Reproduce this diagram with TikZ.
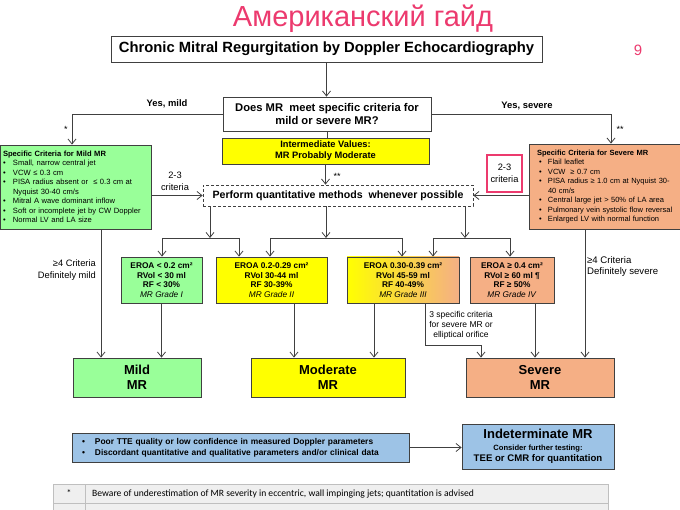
\documentclass[tikz,border=0pt]{standalone}
\usepackage{fontspec}
\setmainfont{Liberation Sans}
\newfontfamily\calib{Carlito}
\usetikzlibrary{arrows.meta}
\definecolor{mgreen}{HTML}{99FF99}
\definecolor{myellow}{HTML}{FFFF00}
\definecolor{morange}{HTML}{F5AF85}
\definecolor{mblue}{HTML}{9DC3E6}
\definecolor{mpink}{HTML}{EC3A6E}
\definecolor{edge}{HTML}{404040}
\definecolor{tgray}{HTML}{EFEFEF}
\definecolor{tline}{HTML}{BFBFBF}
\newcommand{\fsz}[2]{\fontsize{#1}{#2}\selectfont}
\newcommand{\bul}[1]{\makebox[#1][l]{\textbullet}}
\newcommand{\nohyph}{\hyphenpenalty=10000\exhyphenpenalty=10000}
\begin{document}
\begin{tikzpicture}[x=1pt,y=-1pt,
  box/.style={draw=edge, line width=0.8pt, inner sep=0pt, align=center},
  arr/.style={draw=edge, line width=0.8pt, -{Straight Barb[length=5pt,width=8pt]}},
  ln/.style={draw=edge, line width=0.8pt},
  lbl/.style={inner sep=0pt, align=center}]
\useasboundingbox (0,0) rectangle (680,510);

% title
\node[lbl, text=mpink, font=\fsz{29}{31}] (title) at (363,19) {Американский гайд};
\node[lbl, text=mpink, font=\fsz{15}{16}] (pg) at (638,50) {9};

% top boxes
\node[box, minimum width=431pt, minimum height=26pt, font=\fsz{14.8}{16}\bfseries] (chronic) at (326.5,49) {Chronic Mitral Regurgitation by Doppler Echocardiography};
\node[box, fill=white, minimum width=208pt, minimum height=34pt, font=\fsz{11.2}{13.5}\bfseries] (does) at (327,114) {Does MR\ \ meet specific criteria for\\mild or severe MR?};
\node[box, fill=myellow, minimum width=207pt, minimum height=26pt, font=\fsz{9.3}{11}\bfseries] (inter) at (325.5,151) {Intermediate Values:\\MR Probably Moderate};
\node[box, dashed, dash pattern=on 3pt off 2pt, minimum width=270pt, minimum height=21pt, font=\fsz{10.6}{12}\bfseries] (perf) at (338,195.5) {Perform quantitative methods\ \ whenever possible};

% criteria boxes
\node[box, fill=mgreen, minimum width=151pt, minimum height=84pt, text width=145pt, inner xsep=3pt, align=left, font=\fsz{7.6}{9.5}\nohyph] (mildc) at (75.5,187) {\textbf{Specific Criteria for Mild MR}\\
\bul{10pt}Small, narrow central jet\\
\bul{10pt}VCW ≤ 0.3 cm\\
\bul{10pt}PISA radius absent or\ \ ≤ 0.3 cm at\\
\hspace*{10pt}Nyquist 30-40 cm/s\\
\bul{10pt}Mitral A wave dominant inflow\\
\bul{10pt}Soft or incomplete jet by CW Doppler\\
\bul{10pt}Normal LV and LA size};
\node[box, fill=morange, minimum width=151pt, minimum height=85pt, text width=147pt, inner xsep=2pt, align=left, font=\fsz{7.5}{9.5}\nohyph] (sevc) at (604.5,186.5) {\hspace*{6pt}\textbf{Specific Criteria for Severe MR}\\
\hspace*{8pt}\bul{9pt}Flail leaflet\\
\hspace*{8pt}\bul{9pt}VCW\ \ ≥ 0.7 cm\\
\hspace*{8pt}\bul{9pt}PISA radius ≥ 1.0 cm at Nyquist 30-\\
\hspace*{17pt}40 cm/s\\
\hspace*{8pt}\bul{9pt}Central large jet > 50\% of LA area\\
\hspace*{8pt}\bul{9pt}Pulmonary vein systolic flow reversal\\
\hspace*{8pt}\bul{9pt}Enlarged LV with normal function};
\node[draw=mpink, line width=2.5pt, minimum width=35pt, minimum height=37pt, inner sep=0pt, align=center, font=\fsz{9.3}{11.5}] (pink) at (504.5,173.5) {2-3\\criteria};

% grade boxes
\node[box, fill=mgreen, minimum width=81pt, minimum height=46pt, font=\fsz{8.3}{9.6}] (g1) at (161.5,280) {\textbf{EROA < 0.2 cm²}\\\textbf{RVol < 30 ml}\\\textbf{RF < 30\%}\\\textit{MR Grade I}};
\node[box, fill=myellow, minimum width=111pt, minimum height=46pt, font=\fsz{8.3}{9.6}] (g2) at (271.5,280) {\textbf{EROA 0.2-0.29 cm²}\\\textbf{RVol 30-44 ml}\\\textbf{RF 30-39\%}\\\textit{MR Grade II}};
\node[box, left color=myellow, right color=morange, minimum width=112pt, minimum height=46pt, font=\fsz{8.3}{9.6}] (g3) at (403,280) {\textbf{EROA 0.30-0.39 cm²}\\\textbf{RVol 45-59 ml}\\\textbf{RF 40-49\%}\\\textit{MR Grade III}};
\node[box, fill=morange, minimum width=84pt, minimum height=46pt, font=\fsz{8.3}{9.6}] (g4) at (512,280) {\textbf{EROA ≥ 0.4 cm²}\\\textbf{RVol ≥ 60 ml ¶}\\\textbf{RF ≥ 50\%}\\\textit{MR Grade IV}};

% outcome boxes
\node[box, fill=mgreen, minimum width=128pt, minimum height=39pt, font=\fsz{13}{15}\bfseries] (mildMR) at (137,377.5) {Mild\\MR};
\node[box, fill=myellow, minimum width=154pt, minimum height=39pt, font=\fsz{13}{15}\bfseries] (modMR) at (328,377.5) {Moderate\\MR};
\node[box, fill=morange, minimum width=148pt, minimum height=39pt, font=\fsz{13}{15}\bfseries] (sevMR) at (540,377.5) {Severe\\MR};

% bottom boxes
\node[box, fill=mblue, minimum width=337pt, minimum height=29pt, text width=317pt, inner xsep=10pt, align=left, font=\fsz{8.4}{11}\bfseries\nohyph] (blue) at (240.5,447.5) {\bul{13pt}Poor TTE quality or low confidence in measured Doppler parameters\\\bul{13pt}Discordant quantitative and qualitative parameters and/or clinical data};
\node[box, fill=mblue, minimum width=152pt, minimum height=45pt, font=\fsz{9.6}{11.5}\bfseries] (indet) at (538,446.5) {{\fsz{13}{13}\bfseries Indeterminate MR}\\{\fsz{7.6}{11}\bfseries Consider further testing:}\\TEE or CMR for quantitation};

% labels
\node[lbl, font=\fsz{9.4}{10}\bfseries] (lym) at (167,104) {Yes, mild};
\node[lbl, font=\fsz{9.4}{10}\bfseries] (lys) at (527,106) {Yes, severe};
\node[lbl, font=\fsz{9}{10}] (st1) at (66,129) {*};
\node[lbl, font=\fsz{9}{10}] (st2) at (620,129) {**};
\node[lbl, font=\fsz{9}{10}] (st3) at (337,176) {**};
\node[lbl, font=\fsz{9.3}{12}] (c23) at (175,181) {2-3\\criteria};
\node[lbl, anchor=east, align=right, font=\fsz{9.3}{12}] (def1) at (96,270) {≥4 Criteria\\Definitely mild};
\node[lbl, anchor=west, align=left, font=\fsz{9.6}{11.5}] (def2) at (587,266.5) {≥4 Criteria\\Definitely severe};
\node[lbl, font=\fsz{8.5}{10}] (three) at (461,325) {3 specific criteria\\for severe MR or\\elliptical orifice};

% connectors
\draw[arr] (chronic.south) -- (chronic.south |- does.north);
\coordinate (ym) at (72,114);
\coordinate (ys) at (611,114);
\draw[arr] (does.west) -- (ym) -- (ym |- mildc.north);
\draw[arr] (does.east) -- (ys) -- (ys |- sevc.north);
\draw[ln] (does.south) -- (does.south |- inter.north);
\draw[arr] (inter.south) -- (inter.south |- perf.north);
\draw[arr] (mildc.east |- perf.west) -- (perf.west);
\draw[arr] (sevc.west |- perf.west) -- (perf.east);

\coordinate (b1) at (210,238);
\coordinate (b2) at (326,238);
\coordinate (b3) at (465,238);
\coordinate (l1a) at (162,238);
\coordinate (l1b) at (239,238);
\coordinate (l2a) at (270,238);
\coordinate (l2b) at (402,238);
\coordinate (l3a) at (433,238);
\coordinate (l3b) at (510,238);
\draw[arr] (b1 |- perf.south) -- (b1);
\draw[arr] (b2 |- perf.south) -- (b2);
\draw[arr] (b3 |- perf.south) -- (b3);
\draw[ln] (l1a) -- (l1b);
\draw[ln] (l2a) -- (l2b);
\draw[ln] (l3a) -- (l3b);
\draw[arr] (l1a) -- (l1a |- g1.north);
\draw[arr] (l1b) -- (l1b |- g2.north);
\draw[arr] (l2a) -- (l2a |- g2.north);
\draw[arr] (l2b) -- (l2b |- g3.north);
\draw[arr] (l3a) -- (l3a |- g3.north);
\draw[arr] (l3b) -- (l3b |- g4.north);

\coordinate (mx) at (101,0);
\coordinate (c2) at (294,0);
\coordinate (c3) at (374,0);
\coordinate (e1) at (425,345);
\coordinate (e2) at (481,345);
\coordinate (c5) at (535,0);
\coordinate (c6) at (585,0);
\draw[arr] (mildc.south -| mx) -- (mildMR.north -| mx);
\draw[arr] (g1.south) -- (g1.south |- mildMR.north);
\draw[arr] (g2.south -| c2) -- (modMR.north -| c2);
\draw[arr] (g3.south -| c3) -- (modMR.north -| c3);
\draw[arr] (g3.south -| e1) -- (e1) -- (e2) -- (e2 |- sevMR.north);
\draw[arr] (g4.south -| c5) -- (sevMR.north -| c5);
\draw[arr] (sevc.south -| c6) -- (sevMR.north -| c6);
\draw[arr] (blue.east) -- (blue.east -| indet.west);

% table
\draw[fill=tgray, draw=tline, line width=0.8pt] (53,484) rectangle (608,503);
\draw[draw=tline, line width=0.8pt] (85,484) -- (85,503);
\draw[fill=tgray, draw=tline, line width=0.8pt] (53,503) rectangle (608,525);
\draw[draw=tline, line width=0.8pt] (85,503) -- (85,525);
\node[lbl, font=\calib\fsz{9.6}{10}] (tstar) at (69,493.5) {*};
\node[lbl, anchor=west, font=\calib\fsz{9.6}{10}] (t1) at (92,493.5) {Beware of underestimation of MR severity in eccentric, wall impinging jets; quantitation is advised};
\end{tikzpicture}
\end{document}
